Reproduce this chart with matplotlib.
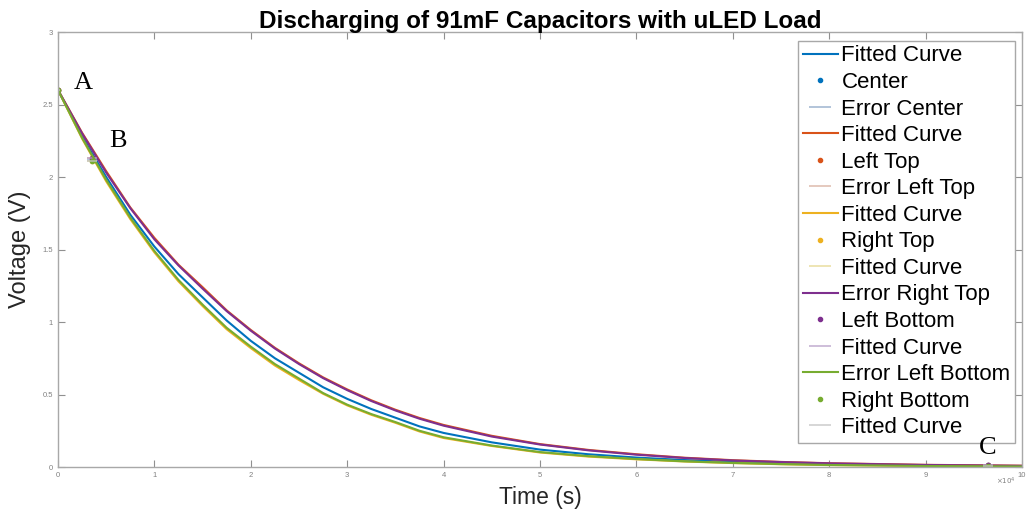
import numpy as np
import matplotlib.pyplot as plt

plt.rcParams['font.family'] = ['Liberation Sans', 'DejaVu Sans']

# time in units of 1e4 s
t = [0, 0.25, 0.5, 0.75, 1, 1.25, 1.5, 1.75, 2, 2.25, 2.5, 2.75, 3, 3.25,
     3.5, 3.75, 4, 4.5, 5, 5.5, 6, 6.5, 7, 7.5, 8, 9, 10]

v_center = [2.60, 2.28, 2.00, 1.74, 1.52, 1.33, 1.17, 1.01, 0.87, 0.75,
            0.65, 0.55, 0.47, 0.40, 0.34, 0.28, 0.235, 0.17, 0.12, 0.088,
            0.065, 0.048, 0.035, 0.025, 0.018, 0.010, 0.005]
v_left_top = [2.60, 2.305, 2.04, 1.79, 1.58, 1.395, 1.24, 1.08, 0.945, 0.822,
              0.715, 0.618, 0.535, 0.46, 0.395, 0.338, 0.29, 0.215, 0.158,
              0.118, 0.088, 0.064, 0.047, 0.035, 0.026, 0.015, 0.009]
v_right_top = [2.60, 2.265, 1.97, 1.71, 1.48, 1.28, 1.11, 0.95, 0.82, 0.70,
               0.60, 0.505, 0.425, 0.36, 0.305, 0.245, 0.20, 0.145, 0.10,
               0.072, 0.053, 0.038, 0.027, 0.019, 0.013, 0.007, 0.004]
v_left_bottom = [2.60, 2.30, 2.03, 1.785, 1.57, 1.39, 1.23, 1.075, 0.94, 0.817,
                 0.71, 0.613, 0.53, 0.455, 0.39, 0.333, 0.285, 0.21, 0.155,
                 0.115, 0.085, 0.062, 0.045, 0.034, 0.025, 0.014, 0.008]
v_right_bottom = [2.60, 2.27, 1.98, 1.72, 1.49, 1.29, 1.12, 0.96, 0.83, 0.71,
                  0.61, 0.51, 0.43, 0.365, 0.31, 0.25, 0.205, 0.148, 0.103,
                  0.075, 0.055, 0.039, 0.028, 0.020, 0.014, 0.007, 0.004]

# measured points (A, B, C)
t_meas = [0, 0.35, 9.65]
meas_center = [2.60, 2.12, 0.012]
meas_left_top = [2.60, 2.13, 0.015]
meas_right_top = [2.60, 2.11, 0.010]
meas_left_bottom = [2.60, 2.13, 0.014]
meas_right_bottom = [2.60, 2.11, 0.010]
t_err = [0.02, 0.05, 0.05]

fits = [v_center, v_left_top, v_right_top, v_left_bottom, v_right_bottom]
meas = [meas_center, meas_left_top, meas_right_top, meas_left_bottom,
        meas_right_bottom]
colors = ['#0072BD', '#D95319', '#EDB120', '#7E2F8E', '#77AC30']
err_colors = ['#8fa8c8', '#d8b0a0', '#e6d890', '#b8a0c8', '#c4c4c4']

labels = ['Fitted Curve', 'Center', 'Error Center',
          'Fitted Curve', 'Left Top', 'Error Left Top',
          'Fitted Curve', 'Right Top',
          'Fitted Curve', 'Error Right Top', 'Left Bottom',
          'Fitted Curve', 'Error Left Bottom', 'Right Bottom',
          'Fitted Curve']

fig = plt.figure(figsize=(10.28, 5.11), dpi=100)
ax = fig.add_axes([58 / 1028, 1 - 467 / 511, 964 / 1028, 435 / 511])

handles = []
for v, m, c, ec in zip(fits, meas, colors, err_colors):
    ln, = ax.plot(t, v, color=c, lw=1.5)
    pt, = ax.plot(t_meas, m, '.', color=c, ms=6)
    eb = ax.errorbar(t_meas, m, xerr=t_err, fmt='none', ecolor=ec,
                     elinewidth=1.2, alpha=0.8)
    handles += [ln, pt, eb]

ax.set_xlim(0, 10)
ax.set_ylim(0, 3)
ax.set_xticks(range(0, 11))
ax.set_yticks([0, 0.5, 1, 1.5, 2, 2.5, 3])
ax.set_yticklabels(['0', '0.5', '1', '1.5', '2', '2.5', '3'])
ax.tick_params(direction='in', length=5, width=0.8, colors='#909090',
               labelsize=5.5, top=True, right=True, labelcolor='#808080')
for sp in ax.spines.values():
    sp.set_color('#a8a8a8')
    sp.set_linewidth(1.0)

ax.set_xlabel('Time (s)', fontsize=16.5, color='#262626', labelpad=5)
ax.set_ylabel('Voltage (V)', fontsize=17, color='#262626', labelpad=8)
ax.set_title('Discharging of 91mF Capacitors with uLED Load',
             fontsize=17.5, fontweight='bold', pad=3)
ax.text(0.993, -0.02, r'$\times10^4$', transform=ax.transAxes, fontsize=5,
        color='#808080', ha='right', va='top')

ax.text(0.26, 2.65, 'A', family='Liberation Serif', fontsize=19,
        ha='center', va='center')
ax.text(0.62, 2.25, 'B', family='Liberation Serif', fontsize=19,
        ha='center', va='center')
ax.text(9.64, 0.13, 'C', family='Liberation Serif', fontsize=19,
        ha='center', va='center', zorder=10)

leg = ax.legend(handles, labels, loc='upper right',
                bbox_to_anchor=(1015 / 1028, 1 - 41 / 511),
                bbox_transform=fig.transFigure, borderaxespad=0,
                fontsize=16, labelspacing=0.25, handlelength=1.6,
                handletextpad=0.15, borderpad=0.2, fancybox=False,
                framealpha=1, edgecolor='#a8a8a8')
leg.get_frame().set_linewidth(1.0)
leg.set_zorder(5)

fig.savefig('out.png', dpi=100)
